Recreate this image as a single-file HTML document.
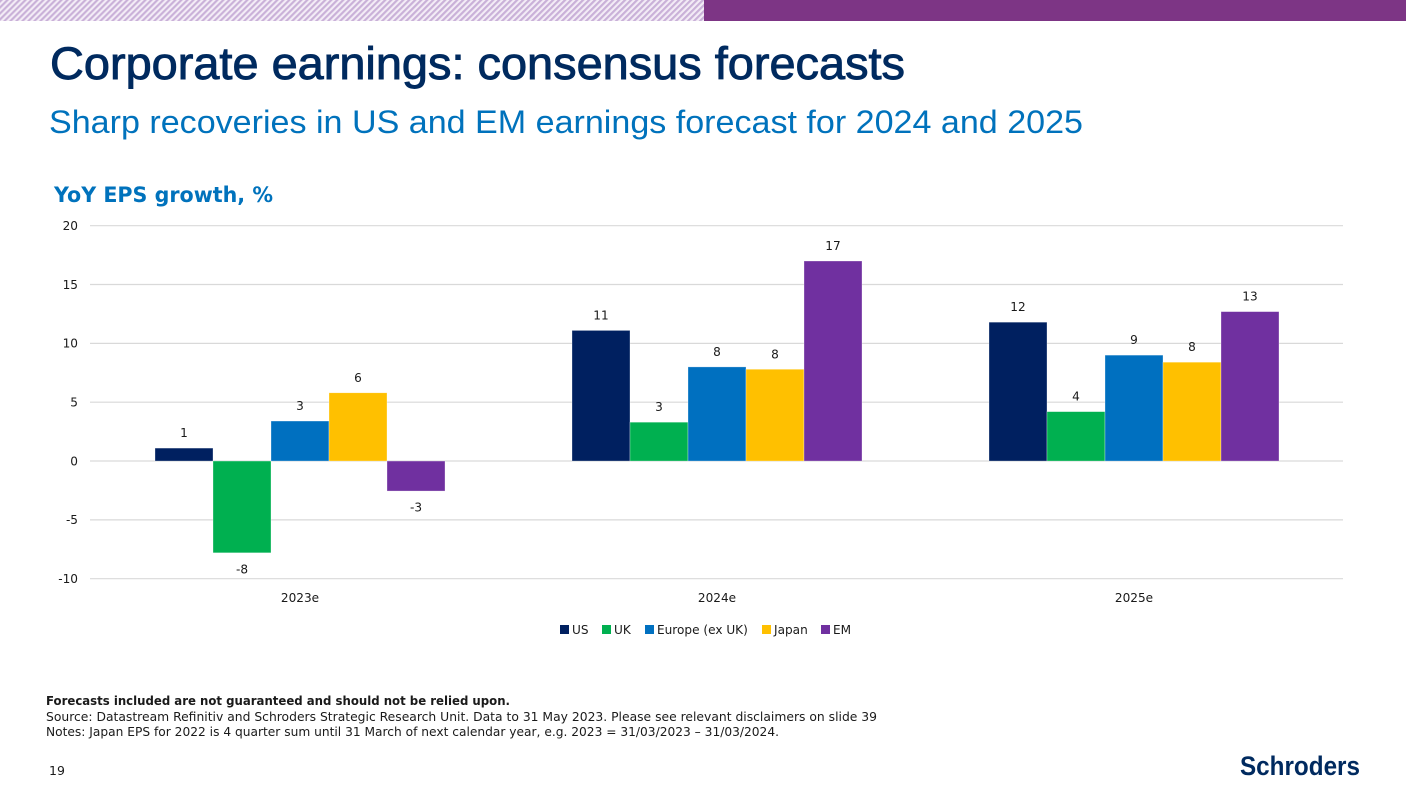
<!DOCTYPE html>
<html lang="en">
<head>
<meta charset="utf-8">
<title>Corporate earnings: consensus forecasts</title>
<style>
html,body{margin:0;padding:0;background:#fff;width:1406px;height:791px;overflow:hidden}
svg{display:block}
text{font-family:"DejaVu Sans",sans-serif;fill:#1a1a1a}
</style>
</head>
<body>
<svg id="slide" xmlns="http://www.w3.org/2000/svg" width="1406" height="791" viewBox="0 0 1406 791">
<defs>
<pattern id="hatch" width="4.24" height="4.24" patternUnits="userSpaceOnUse" patternTransform="rotate(45)">
<rect width="4.24" height="4.24" fill="#f3ecf6"/>
<rect width="2.12" height="4.24" fill="#c9b0d8"/>
</pattern>
</defs>
<rect x="0" y="0" width="704" height="21" fill="url(#hatch)"/>
<rect x="704" y="0" width="702" height="21" fill="#7d3585"/>
<text x="50" y="79" textLength="855" lengthAdjust="spacingAndGlyphs" style="font-family:'Liberation Sans',sans-serif;font-size:45px;fill:#002a5f;stroke:#002a5f;stroke-width:0.9px">Corporate earnings: consensus forecasts</text>
<text x="49" y="133" textLength="1034" lengthAdjust="spacingAndGlyphs" style="font-family:'Liberation Sans',sans-serif;font-size:32.5px;fill:#0072bc">Sharp recoveries in US and EM earnings forecast for 2024 and 2025</text>
<text x="54" y="202" textLength="219" lengthAdjust="spacingAndGlyphs" style="font-size:21px;font-weight:bold;fill:#0072bc">YoY EPS growth, %</text>
<g id="chart"></g>
<text x="46" y="705" textLength="464" lengthAdjust="spacingAndGlyphs" style="font-size:12px;font-weight:bold">Forecasts included are not guaranteed and should not be relied upon.</text>
<text x="46" y="721" textLength="831" lengthAdjust="spacingAndGlyphs" style="font-size:12px">Source: Datastream Refinitiv and Schroders Strategic Research Unit. Data to 31 May 2023. Please see relevant disclaimers on slide 39</text>
<text x="46" y="736" textLength="733" lengthAdjust="spacingAndGlyphs" style="font-size:12px">Notes: Japan EPS for 2022 is 4 quarter sum until 31 March of next calendar year, e.g. 2023 = 31/03/2023 – 31/03/2024.</text>
<text x="49" y="775" style="font-size:12.5px">19</text>
<text x="1240" y="775" textLength="120" lengthAdjust="spacingAndGlyphs" style="font-family:'Liberation Sans',sans-serif;font-size:27px;font-weight:bold;fill:#002a5f">Schroders</text>
</svg>
<script>
var categories = ['2023e', '2024e', '2025e'];
var seriesNames = ['US', 'UK', 'Europe (ex UK)', 'Japan', 'EM'];
var usValues = [1.1, 11.1, 11.8];
var ukValues = [-7.8, 3.3, 4.2];
var europeValues = [3.4, 8.0, 9.0];
var japanValues = [5.8, 7.8, 8.4];
var emValues = [-2.55, 17.0, 12.7];
var yTicks = [-10, -5, 0, 5, 10, 15, 20];

var seriesValues = [usValues, ukValues, europeValues, japanValues, emValues];
var seriesColors = ['#002060', '#00b050', '#0070c0', '#ffc000', '#7030a0'];
var plotLeft = 90, plotRight = 1343, plotTop = 225.7, plotBottom = 578.7;
var bandLeft = 91.5, groupWidth = 417;
var yMin = yTicks[0], yMax = yTicks[yTicks.length - 1];
var barWidth = 58;
var NS = 'http://www.w3.org/2000/svg';
var chart = document.getElementById('chart');

function yScale(v) { return plotBottom - (v - yMin) / (yMax - yMin) * (plotBottom - plotTop); }
function xCenter(i) { return bandLeft + groupWidth * (i + 0.5); }
function xBar(i, s) { return xCenter(i) - barWidth * seriesNames.length / 2 + barWidth * s; }
function slug(t) { return t.toLowerCase().replace(/[^a-z0-9]+/g, '-').replace(/-$/, ''); }
function make(tag, attrs) {
  var el = document.createElementNS(NS, tag);
  for (var k in attrs) { el.setAttribute(k, attrs[k]); }
  chart.appendChild(el);
  return el;
}
function label(x, y, anchor, content) {
  var el = make('text', { x: x, y: y, 'text-anchor': anchor, style: 'font-size:12.1px' });
  el.textContent = content;
  return el;
}

yTicks.forEach(function (t) {
  var line = make('line', { x1: plotLeft, x2: plotRight, y1: yScale(t), y2: yScale(t), stroke: '#d9d9d9', 'stroke-width': 1.2 });
  
  
  var tick = label(78, yScale(t) + 4.3, 'end', String(t));
  
  
});

categories.forEach(function (c, i) {
  var cat = label(xCenter(i), 602, 'middle', c);
  
  
  seriesNames.forEach(function (name, s) {
    var v = seriesValues[s][i];
    var y0 = yScale(0), yv = yScale(v);
    var bar = make('rect', { x: xBar(i, s), y: Math.min(y0, yv), width: barWidth, height: Math.abs(yv - y0), fill: seriesColors[s], stroke: '#ffffff', 'stroke-opacity': 0.5, 'stroke-width': 0.6 });
    
    
    var ly = v >= 0 ? yv - 11 : yv + 20.5;
    var val = label(xBar(i, s) + barWidth / 2, ly, 'middle', String(Math.round(Math.abs(v)) * (v < 0 ? -1 : 1)));
    
    
  });
});

var legendOffsets = [0, 42, 85, 202, 261];
seriesNames.forEach(function (name, s) {
  var lx = 560 + legendOffsets[s];
  var swatch = make('rect', { x: lx, y: 625, width: 9, height: 9, fill: seriesColors[s] });
  
  
  var entry = label(lx + 12, 634, 'start', name);
  
  
});
</script>
</body>
</html>
